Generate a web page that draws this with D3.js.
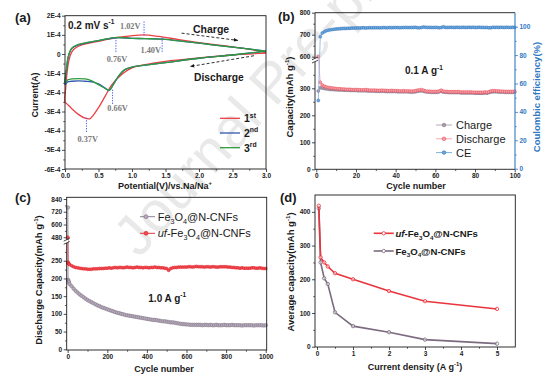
<!DOCTYPE html>
<html><head><meta charset="utf-8">
<script src="https://cdn.jsdelivr.net/npm/d3@7"></script>
<style>html,body{margin:0;padding:0;background:#fff;} svg{display:block;}</style>
</head><body><svg id="chart" width="554" height="380"></svg>
<script>
// ---------------- DATA ----------------
// (a) cyclic voltammetry, current in units of 1E-4 A (closed loops starting at 3.0 V)
const cv1V = [3.0,2.5,2.0,1.5,1.2,1.0,0.85,0.7,0.6,0.5,0.42,0.37,0.3,0.2,0.1,0.03,0.0, 0.01,0.03,0.06,0.1,0.15,0.25,0.4,0.55,0.75,0.95,1.17,1.4,1.7,2.0,2.4,2.8,3.0];
const cv1I = [0.05,-0.05,-0.2,-0.38,-0.55,-0.72,-1.05,-1.6,-2.2,-2.8,-3.2,-3.38,-3.35,-3.15,-2.85,-2.6,-2.5, -1.8,-1.0,-0.3,0.1,0.3,0.48,0.6,0.7,0.85,0.93,1.0,0.92,0.75,0.6,0.42,0.22,0.08];
const cv23V = [3.0,2.5,2.0,1.5,1.2,1.0,0.9,0.8,0.72,0.66,0.6,0.5,0.4,0.3,0.2,0.1,0.04,0.0, 0.02,0.05,0.1,0.2,0.35,0.5,0.75,1.0,1.2,1.45,1.8,2.2,2.6,3.0];
const cv2I = [0.15,-0.05,-0.22,-0.45,-0.58,-0.68,-0.8,-1.15,-1.6,-1.9,-1.78,-1.55,-1.45,-1.42,-1.4,-1.42,-1.45,-1.6, -0.9,-0.15,0.28,0.48,0.6,0.7,0.85,0.82,0.8,0.78,0.65,0.48,0.32,0.15];
const cv3I = [0.15,-0.05,-0.22,-0.45,-0.58,-0.68,-0.8,-1.15,-1.6,-1.88,-1.8,-1.6,-1.4,-1.3,-1.28,-1.3,-1.35,-1.5, -0.8,-0.1,0.3,0.5,0.62,0.7,0.86,0.82,0.8,0.78,0.65,0.48,0.32,0.15];
const cvNames = ["1", "2", "3"];
const cvSup = ["st", "nd", "rd"];
const cvPeaks = [
  {text:"0.76V", v:0.76, iTop:0.86, iBot:0.07, lv:0.776, li:-0.43, anchor:"middle"},
  {text:"1.02V", v:1.18, iTop:1.70, iBot:0.92, lv:1.127, li:1.29, anchor:"end"},
  {text:"1.40V", v:1.45, iTop:0.86, iBot:0.05, lv:1.433, li:0.04, anchor:"end"},
  {text:"0.66V", v:0.71, iTop:-1.86, iBot:-2.64, lv:0.784, li:-2.98, anchor:"middle"},
  {text:"0.37V", v:0.32, iTop:-3.32, iBot:-4.11, lv:0.339, li:-4.59, anchor:"middle"}
];
const cvArrows = [
  {v0:1.74, i0:1.09, v1:2.58, i1:0.71},
  {v0:2.82, i0:-0.09, v1:1.87, i1:-0.65}
];
const cvXTicks = [0,0.5,1.0,1.5,2.0,2.5,3.0];
const cvYTicks = [-6,-5,-4,-3,-2,-1,0,1,2];

// (b) cycling at 0.1 A/g, cycles 1..100
const bDischarge = [600,322,312,308,305,303,302,301,300,299,
298,298,297,297,296,296,296,295,295,295,
295,294,294,294,295,294,293,293,293,293,
292,292,293,292,292,291,291,292,291,291,
291,290,290,291,290,290,290,289,290,291,
293,294,295,293,290,289,289,288,288,288,
288,290,293,289,288,288,287,287,287,287,
287,287,286,286,286,286,286,286,285,285,
285,285,285,285,286,285,287,290,291,291,
290,290,289,289,288,288,288,288,288,289];
const bCharge = [290,302,301,299,298,297,296,296,295,295,
294,294,294,293,293,293,292,292,292,292,
291,291,291,291,291,290,290,290,290,289,
289,289,289,289,288,288,288,288,288,288,
287,287,287,287,287,287,286,286,286,287,
289,290,291,289,287,286,286,285,285,285,
285,287,289,286,285,285,284,284,284,284,
284,284,283,283,283,283,283,283,283,282,
282,282,282,282,283,282,284,286,287,287,
287,286,286,286,285,285,285,285,285,286];
const bCE = [48,93,95.5,96.5,97.1,97.5,97.8,98.0,98.2,98.4,
98.5,98.6,98.7,98.8,98.8,98.9,98.9,99.0,99.0,99.1,
99.1,99.1,99.2,99.2,99.1,99.2,99.3,99.2,99.3,99.3,
99.3,99.2,99.3,99.4,99.3,99.3,99.4,99.3,99.4,99.4,
99.4,99.3,99.4,99.4,99.5,99.4,99.4,99.5,99.4,99.6,
99.3,99.2,99.4,99.8,99.6,99.5,99.5,99.5,99.4,99.5,
99.5,99.2,99.4,99.9,99.5,99.5,99.5,99.6,99.5,99.5,
99.6,99.5,99.5,99.6,99.5,99.5,99.6,99.5,99.6,99.5,
99.5,99.6,99.5,99.5,99.4,99.5,99.2,99.3,99.6,99.5,
99.6,99.5,99.6,99.5,99.5,99.6,99.5,99.5,99.6,99.5];
const bXTicks = [0,20,40,60,80,100];
const bYTicksLow = [0,100,200,300];
const bYTicksHigh = [600,700,800];
const bYTicksRight = [0,20,40,60,80,100];
const bLegend = ["Charge","Discharge","CE"];

// (c) long cycling at 1.0 A/g
const cCycles = [1,2,3,4,5,10,20,30,40,50,60,70,80,90,100,110,120,130,140,150,160,170,180,190,200,
210,220,230,240,250,260,270,280,290,300,310,320,330,340,350,360,370,380,390,400,
410,420,430,440,450,460,470,480,490,500,510,520,530,540,550,560,570,580,590,600,
610,620,630,640,650,660,670,680,690,700,710,720,730,740,750,760,770,780,790,800,
810,820,830,840,850,860,870,880,890,900,910,920,930,940,950,960,970,980,990,1000];
const cFe = [760,196,193,191,189,184,178,171,165,160,155,151,147,143,139,136,133,130,127,124,122,119,117,115,113,
111,109,107,105,103,102,100,99,97,96,95,94,93,92,91,90,89,88,87,86,
85,84,83,83,82,81,80,79,79,78,77,76,76,75,74,73,72,71,71,70,
70,69,69,69,69,69,69,68,69,69,68,69,68,68,69,68,68,68,69,68,
68,68,69,68,68,68,68,67,68,68,68,68,68,67,68,68,68,68,67,68];
const cUf = [480,246,243,242,241,239,236,233,231,230,229,228,227,227,226,226,226,227,227,227,228,228,228,229,229,
230,229,230,231,230,231,231,230,231,232,231,231,230,231,232,231,231,230,231,231,
230,231,231,232,231,231,230,230,229,228,223,228,230,231,231,232,232,232,232,232,
233,233,232,233,234,233,233,233,232,233,233,232,233,233,232,232,233,233,233,233,
232,232,231,231,230,230,229,230,229,229,229,229,230,230,229,229,230,229,228,228];
const cXTicks = [0,200,400,600,800,1000];
const cYTicksLow = [0,50,100,150,200,250];
const cYTicksHigh = [480,600,720,840];

// (d) rate capability
const dCurrent = [0.05,0.1,0.2,0.3,0.5,1,2,3,5];
const dUf = [418,265,250,238,218,200,165,135,112];
const dFe = [410,250,203,186,102,61,43,21,9];
const dXTicks = [0,1,2,3,4,5];
const dYTicks = [0,100,200,300,400];

// ---------------- DRAW ----------------
const FONT = '"Liberation Sans", Arial, Helvetica, sans-serif';
const SERIF = '"Liberation Serif", "Times New Roman", serif';
const INK = "#1a1a1a";
const svg = d3.select("#chart").attr("font-family", FONT);

function rich(t, parts, fs) {
  let shift = 0;
  parts.forEach(p => {
    const [txt, kind] = Array.isArray(p) ? p : [p, ""];
    const ts = t.append("tspan").text(txt);
    const target = kind === "sup" ? -0.42 * fs : kind === "sub" ? 0.28 * fs : 0;
    if (target - shift !== 0) ts.attr("dy", target - shift);
    shift = target;
    if (kind === "sup" || kind === "sub") ts.attr("font-size", fs * 0.65);
    if (kind === "it") ts.attr("font-style", "italic");
  });
  return t;
}
function label(g, x, y, parts, fs, o = {}) {
  const t = g.append("text").attr("x", x).attr("y", y).attr("font-size", fs)
    .attr("font-weight", o.weight || "bold").attr("fill", o.fill || INK)
    .attr("text-anchor", o.anchor || "start").attr("font-family", o.family || FONT);
  if (o.rotate) t.attr("transform", `rotate(${o.rotate},${x},${y})`);
  return rich(t, parts, fs);
}
function styleAxis(a, color) {
  a.select(".domain").remove();
  a.selectAll("text").attr("font-size", 6.5).attr("font-weight", "bold")
    .attr("font-family", FONT).attr("fill", color || "#222");
  a.selectAll("line").attr("stroke", color || "#222").attr("stroke-width", 0.8);
  return a;
}
function axis(g, gen, tx, ty, color) {
  return styleAxis(g.append("g").attr("transform", `translate(${tx},${ty})`).call(gen), color);
}
function minor(g, gen, tx, ty, color) {
  const a = g.append("g").attr("transform", `translate(${tx},${ty})`).call(gen.tickFormat("").tickSize(1.8).tickSizeOuter(0));
  a.select(".domain").remove();
  a.selectAll("line").attr("stroke", color || "#222").attr("stroke-width", 0.7);
}
function frameRect(g, x0, x1, y0, y1) {
  g.append("rect").attr("x", x0).attr("y", y0).attr("width", x1 - x0).attr("height", y1 - y0)
    .attr("fill", "none").attr("stroke", INK).attr("stroke-width", 0.9);
}
function breakMark(g, x, y) {
  g.append("rect").attr("x", x - 1.5).attr("y", y - 1.6).attr("width", 3).attr("height", 3.2).attr("fill", "#fff");
  [-1.6, 1.6].forEach(d => g.append("line").attr("x1", x - 3).attr("y1", y + d + 1.4)
    .attr("x2", x + 3).attr("y2", y + d - 1.4).attr("stroke", INK).attr("stroke-width", 0.8));
}

// watermark
svg.append("text").attr("x", 139).attr("y", 259).attr("font-size", 57).attr("fill", "#e9e9e9")
  .attr("font-family", FONT).attr("transform", "rotate(-48,139,259)").text("Journal Pre-proof");

// ===== (a) =====
{
  const g = svg.append("g");
  const x = d3.scaleLinear([0, 3], [65, 266]);
  const y = d3.scaleLinear([-6, 2], [169, 15.7]);
  const defs = svg.append("defs");
  defs.append("marker").attr("id", "ah").attr("viewBox", "0 0 10 10").attr("refX", 9).attr("refY", 5)
    .attr("markerWidth", 5).attr("markerHeight", 5).attr("orient", "auto")
    .append("path").attr("d", "M0,1 L10,5 L0,9 Z").attr("fill", INK);

  axis(g, d3.axisBottom(x).tickValues(cvXTicks).tickFormat(d3.format(".1f")).tickSize(3).tickSizeOuter(0).tickPadding(1.5), 0, 169);
  minor(g, d3.axisBottom(x).tickValues(d3.range(0.25, 3, 0.5)), 0, 169);
  axis(g, d3.axisLeft(y).tickValues(cvYTicks).tickFormat(d => d === 0 ? "0" : d + "E-4").tickSize(3).tickSizeOuter(0).tickPadding(1.5), 65, 0);
  minor(g, d3.axisLeft(y).tickValues(d3.range(-5.5, 2, 1)), 65, 0);

  const line = d3.line().x(d => x(d[0])).y(d => y(d[1])).curve(d3.curveCatmullRom.alpha(0.5));
  const loops = [
    {v: cv1V, i: cv1I, c: "#ee3f45"},
    {v: cv23V, i: cv2I, c: "#2f58b0"},
    {v: cv23V, i: cv3I, c: "#2f9a3c"}
  ];
  loops.forEach(L => g.append("path").attr("d", line(L.v.map((v, k) => [v, L.i[k]])))
    .attr("fill", "none").attr("stroke", L.c).attr("stroke-width", 1.3));

  cvPeaks.forEach(p => {
    g.append("line").attr("x1", x(p.v)).attr("x2", x(p.v)).attr("y1", y(p.iTop)).attr("y2", y(p.iBot))
      .attr("stroke", "#4a5cf5").attr("stroke-width", 1).attr("stroke-dasharray", "1.3,1.3");
    label(g, x(p.lv), y(p.li), [p.text], 8.3, {family: SERIF, fill: "#7a7a7a", anchor: p.anchor});
  });
  cvArrows.forEach(a => g.append("line").attr("x1", x(a.v0)).attr("y1", y(a.i0)).attr("x2", x(a.v1)).attr("y2", y(a.i1))
    .attr("stroke", INK).attr("stroke-width", 0.9).attr("stroke-dasharray", "3,2").attr("marker-end", "url(#ah)"));

  frameRect(g, 65, 266, 15.7, 169);
  label(g, 68, 28.5, ["0.2 mV s", ["-1", "sup"]], 10);
  label(g, 193, 32.5, ["Charge"], 10.5);
  label(g, 194, 80.5, ["Discharge"], 10.3);
  loops.forEach((L, k) => {
    const ly = 118.3 + k * 14.7;
    g.append("line").attr("x1", 220).attr("x2", 240).attr("y1", ly).attr("y2", ly).attr("stroke", L.c).attr("stroke-width", 1.3);
    label(g, 244, ly + 3.8, [cvNames[k], [cvSup[k], "sup"]], 10.5);
  });
  label(g, 38, 95, ["Current(A)"], 9, {anchor: "middle", rotate: -90});
  label(g, 165, 189, ["Potential(V)/vs.Na/Na", ["+", "sup"]], 9, {anchor: "middle"});
  label(g, 15, 21.5, ["(a)"], 13);
}

// ===== (b) =====
{
  const g = svg.append("g");
  const x = d3.scaleLinear([0, 100], [316.3, 514.7]);
  const yLo = d3.scaleLinear([0, 400], [169.3, 61.3]);
  const yHi = d3.scaleLinear([590, 800], [58.9, 12.7]);
  const y = v => v <= 400 ? yLo(v) : yHi(v);
  const yR = d3.scaleLinear([0, 110], [168.7, 12.5]);
  const BLUE = "#2f78c2";

  axis(g, d3.axisBottom(x).tickValues(bXTicks).tickFormat(d3.format("d")).tickSize(3).tickSizeOuter(0).tickPadding(1.5), 0, 169.3);
  minor(g, d3.axisBottom(x).tickValues(d3.range(10, 100, 20)), 0, 169.3);
  axis(g, d3.axisLeft(yLo).tickValues(bYTicksLow).tickFormat(d3.format("d")).tickSize(3).tickSizeOuter(0).tickPadding(1.5), 315, 0);
  minor(g, d3.axisLeft(yLo).tickValues([50, 150, 250, 350]), 315, 0);
  axis(g, d3.axisLeft(yHi).tickValues(bYTicksHigh).tickFormat(d3.format("d")).tickSize(3).tickSizeOuter(0).tickPadding(1.5), 315, 0);
  minor(g, d3.axisLeft(yHi).tickValues([650, 750]), 315, 0);
  axis(g, d3.axisRight(yR).tickValues(bYTicksRight).tickFormat(d3.format("d")).tickSize(3).tickSizeOuter(0).tickPadding(1.5), 515, 0, BLUE);
  minor(g, d3.axisRight(yR).tickValues(d3.range(10, 110, 20)), 515, 0, BLUE);

  const series = [
    {vals: bCharge, sy: y, fill: "#a99cad", stroke: "#7b6c80", line: "#b5a9b8"},
    {vals: bDischarge, sy: y, fill: "#f5a3aa", stroke: "#e8404f", line: "#f4a6ac"},
    {vals: bCE, sy: yR, fill: "#6ea8de", stroke: "#2e72b8", line: "#7fb1e0"}
  ];
  series.forEach(s => {
    const pts = s.vals.map((v, k) => [x(k + 1), s.sy(v)]);
    g.append("path").attr("d", d3.line()(pts)).attr("fill", "none").attr("stroke", s.line).attr("stroke-width", 0.8);
    g.append("g").selectAll("circle").data(pts).join("circle").attr("cx", d => d[0]).attr("cy", d => d[1])
      .attr("r", 1.5).attr("fill", s.fill).attr("stroke", s.stroke).attr("stroke-width", 0.5);
  });

  g.append("line").attr("x1", 315).attr("x2", 515).attr("y1", 169.3).attr("y2", 169.3).attr("stroke", INK).attr("stroke-width", 0.9);
  g.append("line").attr("x1", 315).attr("x2", 515).attr("y1", 12.7).attr("y2", 12.7).attr("stroke", INK).attr("stroke-width", 0.9);
  g.append("line").attr("x1", 315).attr("x2", 315).attr("y1", 12.7).attr("y2", 169.3).attr("stroke", INK).attr("stroke-width", 0.9);
  g.append("line").attr("x1", 515).attr("x2", 515).attr("y1", 12.7).attr("y2", 169.3).attr("stroke", BLUE).attr("stroke-width", 1.1);
  breakMark(g, 315, 60);

  series.forEach((s, k) => {
    const ly = 125 + k * 13.8;
    g.append("line").attr("x1", 436).attr("x2", 452).attr("y1", ly).attr("y2", ly).attr("stroke", s.line).attr("stroke-width", 1);
    g.append("circle").attr("cx", 444).attr("cy", ly).attr("r", 1.8).attr("fill", s.fill).attr("stroke", s.stroke).attr("stroke-width", 0.6);
    label(g, 456, ly + 4, [bLegend[k]], 11, {weight: "normal"});
  });
  label(g, 405, 74, ["0.1 A g", ["-1", "sup"]], 10);
  label(g, 293, 97, ["Capacity(mAh g", ["-1", "sup"], ")"], 9.5, {anchor: "middle", rotate: -90});
  label(g, 540, 97, ["Coulombic efficiency(%)"], 9.5, {anchor: "middle", rotate: -90, fill: BLUE});
  label(g, 416, 189, ["Cycle number"], 9, {anchor: "middle"});
  label(g, 278, 21, ["(b)"], 13);
}

// ===== (c) =====
{
  const g = svg.append("g");
  const x = d3.scaleLinear([0, 1000], [67.7, 265.7]);
  const yLo = d3.scaleLinear([0, 300], [349.3, 243]);
  const yHi = d3.scaleLinear([460, 856], [239.4, 197.3]);
  const y = v => v <= 300 ? yLo(v) : yHi(v);

  axis(g, d3.axisBottom(x).tickValues(cXTicks).tickFormat(d3.format("d")).tickSize(3).tickSizeOuter(0).tickPadding(1.5), 0, 350);
  minor(g, d3.axisBottom(x).tickValues(d3.range(100, 1000, 200)), 0, 350);
  axis(g, d3.axisLeft(yLo).tickValues(cYTicksLow).tickFormat(d3.format("d")).tickSize(3).tickSizeOuter(0).tickPadding(1.5), 66.7, 0);
  minor(g, d3.axisLeft(yLo).tickValues(d3.range(25, 300, 50)), 66.7, 0);
  axis(g, d3.axisLeft(yHi).tickValues(cYTicksHigh).tickFormat(d3.format("d")).tickSize(3).tickSizeOuter(0).tickPadding(1.5), 66.7, 0);
  minor(g, d3.axisLeft(yHi).tickValues([540, 660, 780]), 66.7, 0);

  const series = [
    {vals: cFe, fill: "#b5abba", stroke: "#7d6e83", line: "#8e8094", r: 1.8},
    {vals: cUf, fill: "#ef4a52", stroke: "#dc2228", line: "#e8343b", r: 1.5}
  ];
  series.forEach(s => {
    const pts = s.vals.map((v, k) => [x(cCycles[k]), y(v)]);
    g.append("path").attr("d", d3.line()(pts)).attr("fill", "none").attr("stroke", s.line).attr("stroke-width", 0.8);
    g.append("g").selectAll("circle").data(pts).join("circle").attr("cx", d => d[0]).attr("cy", d => d[1])
      .attr("r", s.r).attr("fill", s.fill).attr("stroke", s.stroke).attr("stroke-width", 0.5);
  });
  frameRect(g, 66.7, 266.7, 197.3, 350);
  breakMark(g, 66.7, 241.3);

  const legTexts = [
    ["Fe", ["3", "sub"], "O", ["4", "sub"], "@N-CNFs"],
    [["uf", "it"], "-Fe", ["3", "sub"], "O", ["4", "sub"], "@N-CNFs"]
  ];
  series.forEach((s, k) => {
    const ly = 216.7 + k * 16.6;
    g.append("line").attr("x1", 140).attr("x2", 155).attr("y1", ly).attr("y2", ly).attr("stroke", s.line).attr("stroke-width", 1);
    g.append("circle").attr("cx", 146).attr("cy", ly).attr("r", 2).attr("fill", s.fill).attr("stroke", s.stroke).attr("stroke-width", 0.6);
    label(g, 157.7, ly + 3.8, legTexts[k], 11, {weight: "normal"});
  });
  label(g, 148.3, 301.5, ["1.0 A g", ["-1", "sup"]], 10);
  label(g, 42, 280, ["Discharge Capacity(mAh g", ["-1", "sup"], ")"], 9.5, {anchor: "middle", rotate: -90});
  label(g, 164, 371.5, ["Cycle number"], 9, {anchor: "middle"});
  label(g, 15, 201.5, ["(c)"], 13);
}

// ===== (d) =====
{
  const g = svg.append("g");
  const x = d3.scaleLinear([0, 5], [317, 497]);
  const y = d3.scaleLinear([0, 450], [346.7, 195]);

  axis(g, d3.axisBottom(x).tickValues(dXTicks).tickFormat(d3.format("d")).tickSize(3).tickSizeOuter(0).tickPadding(1.5), 0, 347);
  minor(g, d3.axisBottom(x).tickValues(d3.range(0.5, 5.5, 1)), 0, 347);
  axis(g, d3.axisLeft(y).tickValues(dYTicks).tickFormat(d3.format("d")).tickSize(3).tickSizeOuter(0).tickPadding(1.5), 315, 0);
  minor(g, d3.axisLeft(y).tickValues(d3.range(50, 450, 100)), 315, 0);

  const series = [
    {vals: dFe, c: "#7b6b80", name: ["Fe", ["3", "sub"], "O", ["4", "sub"], "@N-CNFs"]},
    {vals: dUf, c: "#e9343c", name: [["uf", "it"], "-Fe", ["3", "sub"], "O", ["4", "sub"], "@N-CNFs"]}
  ];
  series.forEach(s => {
    const pts = s.vals.map((v, k) => [x(dCurrent[k]), y(v)]);
    g.append("path").attr("d", d3.line()(pts)).attr("fill", "none").attr("stroke", s.c).attr("stroke-width", 1.6);
    g.append("g").selectAll("circle").data(pts).join("circle").attr("cx", d => d[0]).attr("cy", d => d[1])
      .attr("r", 1.7).attr("fill", "#fff").attr("fill-opacity", 0.5).attr("stroke", s.c).attr("stroke-width", 0.8);
  });
  frameRect(g, 315, 515.3, 195, 347);

  [series[1], series[0]].forEach((s, k) => {
    const ly = 233.3 + k * 17.7;
    g.append("line").attr("x1", 373.7).attr("x2", 393.7).attr("y1", ly).attr("y2", ly).attr("stroke", s.c).attr("stroke-width", 1.6);
    g.append("circle").attr("cx", 383.7).attr("cy", ly).attr("r", 1.7).attr("fill", "#fff").attr("stroke", s.c).attr("stroke-width", 0.8);
    label(g, 395.5, ly + 3.6, s.name, 9.6);
  });
  label(g, 294, 272, ["Average capacity(mAh g", ["-1", "sup"], ")"], 9.5, {anchor: "middle", rotate: -90});
  label(g, 415, 370, ["Current density (A g", ["-1", "sup"], ")"], 9, {anchor: "middle"});
  label(g, 280, 201.5, ["(d)"], 13);
}
</script>
</body></html>
